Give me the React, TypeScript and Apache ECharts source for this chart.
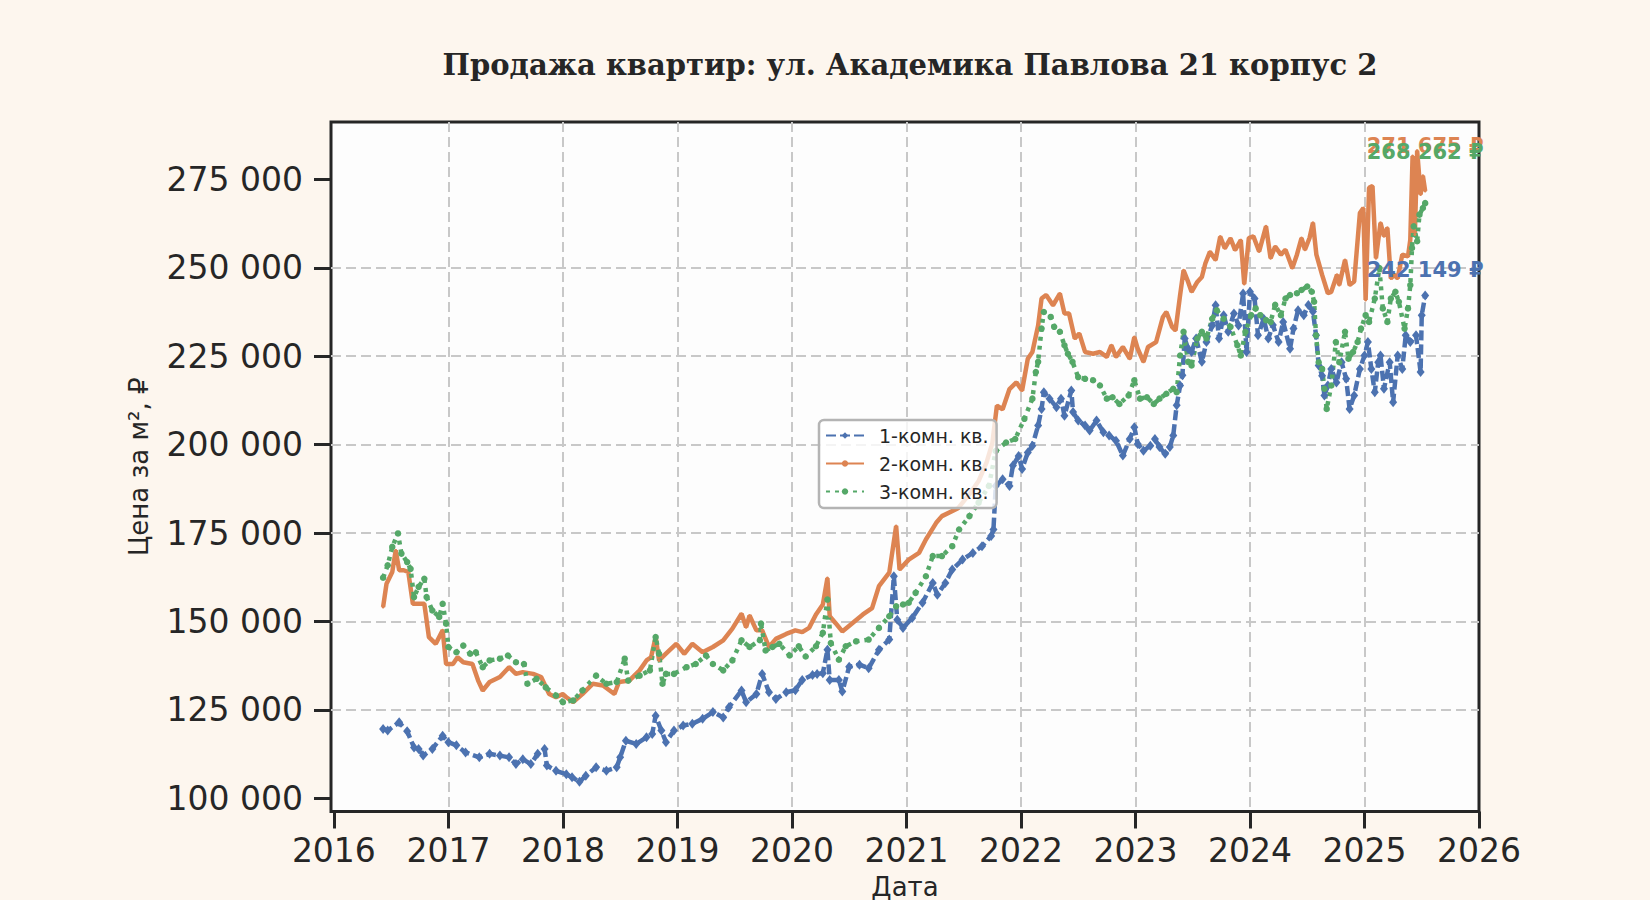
import { useEffect, useRef } from 'react';
import * as echarts from 'echarts';

// цены за м² по типам квартир, [год (дробный), руб.]
const seriesNames = ['1-комн. кв.', '2-комн. кв.', '3-комн. кв.'];
const seriesColors = ['#4c72b0', '#dd8452', '#55a868'];

const yTicks = [100000, 125000, 150000, 175000, 200000, 225000, 250000, 275000];
const xTicks = [2016, 2017, 2018, 2019, 2020, 2021, 2022, 2023, 2024, 2025, 2026];

// высота подписей последних значений (в рублях)
const endLabelY = [249300, 284300, 282600];

const oneRoom: [number, number][] = [
    [2016.43, 119600], [2016.47, 119200], [2016.57, 121500], [2016.64, 119000], [2016.70, 114400],
    [2016.74, 114000], [2016.78, 112100], [2016.86, 114000], [2016.95, 117700], [2017.00, 115900],
    [2017.07, 115000], [2017.15, 113000], [2017.27, 111600], [2017.36, 112600], [2017.45, 112100],
    [2017.53, 111600], [2017.59, 109700], [2017.65, 111100], [2017.72, 109700], [2017.78, 112600],
    [2017.84, 114000], [2017.86, 109300], [2017.94, 107800], [2018.03, 106800], [2018.08, 106000],
    [2018.145, 104700], [2018.20, 106400], [2018.29, 108800], [2018.38, 107800], [2018.47, 108800],
    [2018.50, 111600], [2018.55, 116300], [2018.64, 115400], [2018.73, 117300], [2018.78, 118200],
    [2018.81, 123400], [2018.86, 119200], [2018.90, 115900], [2018.97, 119200], [2019.05, 120600],
    [2019.13, 121100], [2019.22, 122500], [2019.31, 124400], [2019.40, 122900], [2019.45, 125800],
    [2019.56, 130500], [2019.60, 127200], [2019.69, 129500], [2019.74, 135200], [2019.80, 130000],
    [2019.86, 128100], [2019.95, 130000], [2020.03, 130600], [2020.09, 133500], [2020.18, 134900],
    [2020.22, 135200], [2020.27, 135400], [2020.31, 142000], [2020.33, 133500], [2020.41, 133500],
    [2020.44, 130200], [2020.50, 137200], [2020.59, 137800], [2020.67, 136800], [2020.76, 142000],
    [2020.85, 144900], [2020.89, 162800], [2020.92, 150500], [2020.97, 148200], [2021.05, 151000],
    [2021.14, 155300], [2021.23, 160900], [2021.27, 157600], [2021.34, 160900], [2021.40, 164700],
    [2021.49, 167500], [2021.58, 169400], [2021.66, 171300], [2021.74, 174200], [2021.76, 176000],
    [2021.78, 188300], [2021.84, 190200], [2021.90, 188300], [2021.93, 194100], [2021.98, 196800],
    [2022.01, 193100], [2022.06, 197800], [2022.10, 199700], [2022.15, 205400], [2022.18, 210100],
    [2022.20, 214800], [2022.25, 213000], [2022.31, 210600], [2022.35, 213000], [2022.38, 208200],
    [2022.44, 215300], [2022.455, 209200], [2022.50, 206800], [2022.56, 205400], [2022.60, 204000],
    [2022.66, 206800], [2022.72, 203500], [2022.77, 202600], [2022.83, 201100], [2022.89, 196900],
    [2022.95, 201600], [2022.99, 204900], [2023.02, 200200], [2023.07, 198300], [2023.13, 199700],
    [2023.17, 201600], [2023.21, 199300], [2023.26, 197400], [2023.30, 199300], [2023.33, 202600],
    [2023.36, 211100], [2023.39, 216700], [2023.41, 219600], [2023.43, 230000], [2023.46, 227100],
    [2023.49, 226200], [2023.53, 230000], [2023.58, 223400], [2023.62, 229000], [2023.67, 233700],
    [2023.70, 239400], [2023.73, 230000], [2023.77, 236600], [2023.81, 231900], [2023.86, 237100],
    [2023.90, 233700], [2023.94, 242700], [2023.97, 226200], [2024.00, 243200], [2024.04, 241300],
    [2024.07, 230900], [2024.12, 235600], [2024.16, 230000], [2024.20, 233800], [2024.25, 229000],
    [2024.29, 234700], [2024.35, 227100], [2024.38, 232800], [2024.42, 238000], [2024.47, 236600],
    [2024.51, 239500], [2024.55, 237600], [2024.577, 230900], [2024.60, 222400], [2024.63, 219500],
    [2024.65, 213900], [2024.68, 216700], [2024.71, 221400], [2024.755, 217600], [2024.80, 223300],
    [2024.84, 218600], [2024.87, 210100], [2024.91, 213900], [2024.96, 221400], [2025.00, 225200],
    [2025.03, 229000], [2025.06, 221400], [2025.09, 214800], [2025.12, 223300], [2025.14, 225200],
    [2025.17, 215800], [2025.22, 223300], [2025.25, 212000], [2025.29, 225200], [2025.33, 221400],
    [2025.36, 230900], [2025.40, 229000], [2025.45, 230900], [2025.49, 220500], [2025.50, 236600],
    [2025.53, 242149]
];

const twoRoom: [number, number][] = [
    [2016.43, 154100], [2016.46, 160700], [2016.51, 164000], [2016.54, 170100], [2016.57, 164500],
    [2016.61, 164500], [2016.65, 164000], [2016.69, 155000], [2016.75, 155000], [2016.79, 155000],
    [2016.83, 145600], [2016.89, 143700], [2016.95, 147500], [2016.98, 138000], [2017.04, 138000],
    [2017.08, 139900], [2017.13, 138500], [2017.21, 138000], [2017.26, 133300], [2017.30, 130500],
    [2017.36, 132900], [2017.45, 134300], [2017.53, 137100], [2017.59, 135200], [2017.65, 135700],
    [2017.74, 135200], [2017.81, 134300], [2017.88, 129500], [2017.94, 128600], [2018.00, 129500],
    [2018.03, 128600], [2018.09, 127200], [2018.17, 129500], [2018.26, 132400], [2018.35, 131900],
    [2018.45, 129500], [2018.49, 132900], [2018.58, 133300], [2018.67, 136200], [2018.73, 139000],
    [2018.77, 139900], [2018.81, 145600], [2018.84, 139000], [2018.90, 140900], [2018.99, 143700],
    [2019.06, 140900], [2019.13, 143700], [2019.22, 141300], [2019.31, 142800], [2019.40, 144700],
    [2019.48, 148000], [2019.56, 152200], [2019.60, 148400], [2019.63, 151700], [2019.69, 147500],
    [2019.74, 147500], [2019.80, 142800], [2019.86, 145100], [2019.95, 146500], [2020.03, 147500],
    [2020.09, 147000], [2020.15, 148200], [2020.21, 152000], [2020.27, 154800], [2020.31, 162300],
    [2020.33, 151500], [2020.38, 149600], [2020.44, 147200], [2020.53, 149600], [2020.62, 152000],
    [2020.70, 153800], [2020.76, 160000], [2020.85, 163800], [2020.91, 177000], [2020.94, 164700],
    [2021.02, 167500], [2021.11, 169400], [2021.17, 173200], [2021.26, 177900], [2021.31, 179800],
    [2021.45, 182000], [2021.55, 186000], [2021.63, 189700], [2021.70, 195000], [2021.75, 200400],
    [2021.79, 211000], [2021.84, 210000], [2021.90, 215700], [2021.96, 217600], [2022.01, 215300],
    [2022.06, 224300], [2022.10, 226200], [2022.15, 233700], [2022.18, 241300], [2022.22, 242300],
    [2022.28, 239400], [2022.34, 242700], [2022.38, 237100], [2022.42, 237100], [2022.47, 230000],
    [2022.51, 231400], [2022.56, 226200], [2022.63, 225700], [2022.69, 226200], [2022.75, 224800],
    [2022.79, 228100], [2022.83, 224800], [2022.89, 227600], [2022.95, 224300], [2022.99, 230400],
    [2023.02, 227100], [2023.07, 223400], [2023.11, 227600], [2023.18, 229000], [2023.24, 236100],
    [2023.27, 237500], [2023.32, 233300], [2023.35, 232300], [2023.39, 242300], [2023.42, 249300],
    [2023.46, 246000], [2023.49, 243200], [2023.54, 246000], [2023.58, 247400], [2023.61, 251200],
    [2023.65, 254500], [2023.70, 252200], [2023.74, 258800], [2023.78, 255500], [2023.83, 258300],
    [2023.87, 255000], [2023.92, 257800], [2023.95, 245400], [2023.99, 258400], [2024.03, 258900],
    [2024.08, 254600], [2024.14, 261700], [2024.18, 252700], [2024.22, 256000], [2024.27, 253700],
    [2024.31, 255100], [2024.37, 249900], [2024.41, 253700], [2024.45, 258400], [2024.48, 255100],
    [2024.52, 258400], [2024.55, 262700], [2024.58, 253700], [2024.63, 248000], [2024.68, 242800],
    [2024.71, 243200], [2024.76, 248000], [2024.78, 245100], [2024.83, 252200], [2024.87, 245100],
    [2024.91, 246100], [2024.96, 265500], [2024.99, 266900], [2025.01, 240900], [2025.04, 272600],
    [2025.07, 273100], [2025.10, 252700], [2025.14, 262700], [2025.17, 258900], [2025.20, 261300],
    [2025.23, 247000], [2025.26, 248000], [2025.29, 247000], [2025.33, 253700], [2025.38, 253200],
    [2025.40, 257900], [2025.42, 281600], [2025.44, 259400], [2025.46, 283100], [2025.49, 270700],
    [2025.51, 276000], [2025.53, 271675]
];

const threeRoom: [number, number][] = [
    [2016.43, 162400], [2016.47, 165900], [2016.51, 171100], [2016.56, 174900], [2016.59, 169200],
    [2016.64, 166800], [2016.67, 164900], [2016.70, 156900], [2016.74, 159800], [2016.79, 162100],
    [2016.81, 156900], [2016.86, 153100], [2016.92, 151300], [2016.95, 155000], [2016.98, 149400],
    [2017.00, 142800], [2017.07, 141300], [2017.13, 143200], [2017.19, 140900], [2017.24, 141300],
    [2017.30, 137100], [2017.36, 139000], [2017.45, 139500], [2017.52, 140400], [2017.59, 138500],
    [2017.66, 138000], [2017.69, 132400], [2017.77, 133800], [2017.85, 131400], [2017.94, 129100],
    [2018.00, 127200], [2018.09, 127700], [2018.17, 130500], [2018.29, 134700], [2018.38, 132400],
    [2018.47, 132900], [2018.54, 139500], [2018.57, 133300], [2018.67, 134700], [2018.76, 136200],
    [2018.81, 145600], [2018.84, 140900], [2018.87, 132400], [2018.90, 135200], [2018.97, 135200],
    [2019.08, 137100], [2019.16, 138000], [2019.25, 140400], [2019.31, 138000], [2019.40, 136200],
    [2019.48, 139000], [2019.56, 144700], [2019.63, 142800], [2019.72, 144700], [2019.73, 149400],
    [2019.77, 141800], [2019.83, 142800], [2019.89, 143700], [2019.98, 140400], [2020.06, 143000],
    [2020.12, 140100], [2020.21, 143000], [2020.27, 146800], [2020.31, 156200], [2020.34, 143900],
    [2020.41, 139200], [2020.47, 143000], [2020.56, 144400], [2020.67, 144900], [2020.76, 148200],
    [2020.85, 151500], [2020.91, 154300], [2020.97, 154800], [2021.02, 155300], [2021.08, 158100],
    [2021.17, 162800], [2021.23, 168500], [2021.31, 168500], [2021.40, 171300], [2021.46, 176000],
    [2021.55, 179800], [2021.63, 183600], [2021.72, 188300], [2021.78, 198200], [2021.87, 200600],
    [2021.95, 201600], [2022.03, 207300], [2022.10, 213000], [2022.13, 220500], [2022.15, 223400],
    [2022.18, 232800], [2022.20, 237500], [2022.26, 236100], [2022.29, 233300], [2022.34, 231900],
    [2022.38, 228100], [2022.41, 225700], [2022.45, 223400], [2022.50, 219100], [2022.56, 218600],
    [2022.63, 218200], [2022.69, 216700], [2022.75, 213000], [2022.80, 213400], [2022.86, 211500],
    [2022.94, 213900], [2022.99, 218200], [2023.04, 213000], [2023.10, 213400], [2023.16, 211500],
    [2023.21, 213000], [2023.27, 214400], [2023.33, 215800], [2023.36, 214800], [2023.39, 225200],
    [2023.42, 231900], [2023.46, 223400], [2023.49, 222400], [2023.54, 230000], [2023.58, 231900],
    [2023.62, 230000], [2023.67, 235600], [2023.71, 238000], [2023.77, 235600], [2023.83, 233300],
    [2023.89, 228100], [2023.92, 225200], [2023.96, 231900], [2024.01, 236600], [2024.05, 238500],
    [2024.09, 236600], [2024.14, 235200], [2024.18, 234700], [2024.22, 239500], [2024.27, 236600],
    [2024.31, 241300], [2024.35, 242300], [2024.41, 242800], [2024.45, 243700], [2024.50, 244700],
    [2024.54, 243200], [2024.56, 240400], [2024.577, 230900], [2024.60, 223300], [2024.63, 221400],
    [2024.65, 215800], [2024.67, 210100], [2024.71, 216700], [2024.75, 229000], [2024.78, 223300],
    [2024.83, 231900], [2024.86, 224300], [2024.90, 226200], [2024.94, 229000], [2024.97, 232800],
    [2025.01, 236600], [2025.04, 234700], [2025.09, 241300], [2025.13, 249900], [2025.16, 238500],
    [2025.20, 234700], [2025.23, 241300], [2025.27, 243200], [2025.30, 240400], [2025.35, 232800],
    [2025.38, 238500], [2025.40, 245100], [2025.415, 255600], [2025.43, 261700], [2025.46, 257500],
    [2025.48, 265000], [2025.51, 266900], [2025.53, 268262]
];

const allSeries = [oneRoom, twoRoom, threeRoom];

const font = 'DejaVu Sans';
const ink = '#262626';

function spaced(v: number): string {
    return String(Math.round(v)).replace(/\B(?=(\d{3})+(?!\d))/g, ' ');
}

function endMark(idx: number) {
    const data = allSeries[idx];
    const last = data[data.length - 1];
    return {
        symbol: 'circle',
        symbolSize: 0,
        silent: true,
        label: {
            show: true,
            position: 'inside',
            formatter: () => spaced(last[1]) + ' ₽',
            color: seriesColors[idx],
            fontFamily: font,
            fontWeight: 'bold',
            fontSize: 21
        },
        data: [{coord: [last[0], endLabelY[idx]]}]
    };
}

const gridLine = {color: '#c8c8c8', width: 2, type: [10, 5]};

export default function App() {
    const ref = useRef<HTMLDivElement | null>(null);

    useEffect(() => {
        document.body.style.margin = '0';
        if (!ref.current) return;
        const chart = echarts.init(ref.current, null, {renderer: 'svg'});

        chart.setOption({
            animation: false,
            backgroundColor: '#fdf6ee',
            title: {
                text: 'Продажа квартир: ул. Академика Павлова 21 корпус 2',
                left: 905,
                top: 45,
                textAlign: 'center',
                textStyle: {fontFamily: 'DejaVu Serif', fontWeight: 'bold', fontSize: 29, color: ink}
            },
            grid: {
                left: 331, right: 171, top: 122, bottom: 88.5,
                show: true,
                backgroundColor: '#fdfdfd',
                borderColor: ink,
                borderWidth: 3,
                containLabel: false,
                outerBoundsMode: 'none'
            },
            legend: {
                orient: 'vertical',
                left: 819,
                top: 420,
                padding: [6, 8, 7, 6],
                itemWidth: 38,
                itemHeight: 8,
                itemGap: 9,
                backgroundColor: 'rgba(255,255,255,0.8)',
                borderColor: '#b4b4b4',
                borderWidth: 2.5,
                borderRadius: 5,
                textStyle: {fontFamily: font, fontSize: 19, color: ink, padding: [0, 0, 0, 10]},
                data: seriesNames
            },
            xAxis: {
                type: 'value',
                min: 2015.975,
                max: 2026,
                minInterval: 1,
                maxInterval: 1,
                name: 'Дата',
                nameLocation: 'middle',
                nameGap: 62,
                nameTextStyle: {fontFamily: font, fontSize: 26, color: ink},
                axisLine: {show: false},
                axisTick: {show: true, length: 17, customValues: xTicks, lineStyle: {color: ink, width: 3}},
                axisLabel: {
                    customValues: xTicks,
                    margin: 22,
                    fontFamily: font,
                    fontSize: 33,
                    color: ink,
                    formatter: (v: number) => (Number.isInteger(v) ? String(v) : '')
                },
                splitLine: {show: true, showMinLine: false, showMaxLine: false, lineStyle: gridLine}
            },
            yAxis: {
                type: 'value',
                min: 96300,
                max: 291200,
                minInterval: 25000,
                maxInterval: 25000,
                name: 'Цена за м², ₽',
                nameLocation: 'middle',
                nameGap: 179,
                nameTextStyle: {fontFamily: font, fontSize: 26, color: ink},
                axisLine: {show: false},
                axisTick: {show: true, length: 17, customValues: yTicks, lineStyle: {color: ink, width: 3}},
                axisLabel: {
                    customValues: yTicks,
                    margin: 28,
                    fontFamily: font,
                    fontSize: 33,
                    color: ink,
                    formatter: (v: number) => (v % 25000 === 0 ? spaced(v) : '')
                },
                splitLine: {show: true, showMinLine: false, showMaxLine: false, lineStyle: gridLine}
            },
            series: [
                {
                    name: seriesNames[0],
                    type: 'line',
                    data: oneRoom,
                    color: seriesColors[0],
                    lineStyle: {width: 4.5, type: [10, 4]},
                    symbol: 'diamond',
                    symbolSize: [8, 10],
                    showAllSymbol: true,
                    markPoint: endMark(0)
                },
                {
                    name: seriesNames[1],
                    type: 'line',
                    data: twoRoom,
                    color: seriesColors[1],
                    lineStyle: {width: 4.5},
                    symbol: 'circle',
                    symbolSize: 3,
                    showAllSymbol: true,
                    markPoint: endMark(1)
                },
                {
                    name: seriesNames[2],
                    type: 'line',
                    data: threeRoom,
                    color: seriesColors[2],
                    lineStyle: {width: 4.5, type: [4, 5]},
                    symbol: 'circle',
                    symbolSize: 6.5,
                    showAllSymbol: true,
                    markPoint: endMark(2)
                }
            ]
        });

        return () => chart.dispose();
    }, []);

    return <div ref={ref} style={{width: 1650, height: 900}}/>;
}
